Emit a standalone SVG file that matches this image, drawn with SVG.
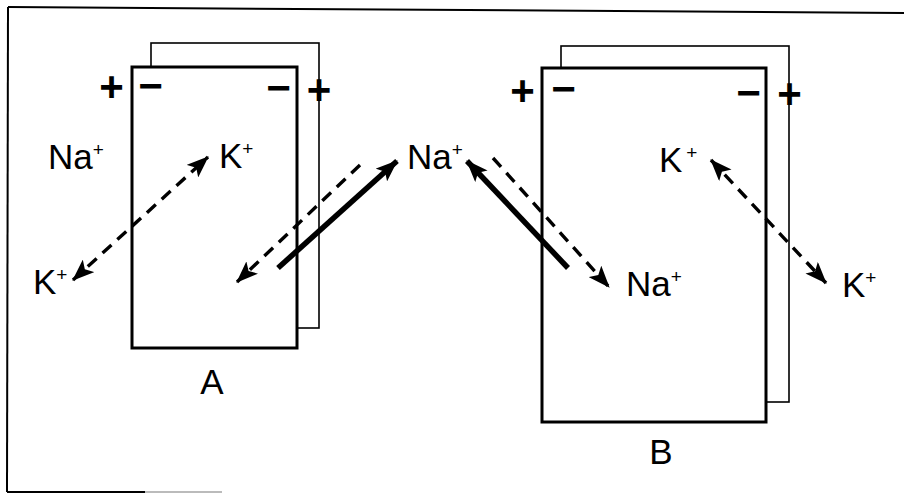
<svg xmlns="http://www.w3.org/2000/svg" width="904" height="493" viewBox="0 0 904 493">
  <defs>
    <marker id="head" viewBox="0 0 22 17" refX="21" refY="8.5" markerWidth="22" markerHeight="17" markerUnits="userSpaceOnUse" orient="auto-start-reverse">
      <path d="M0,0 L22,8.5 L0,17 L5,8.5 Z" fill="#000"/>
    </marker>
  </defs>
  <style>
    .frame { fill: none; stroke: #000; stroke-width: 2; }
    .back { fill: #fff; stroke: #000; stroke-width: 1.6; }
    .front { fill: #fff; stroke: #000; stroke-width: 3; }
    .lbl { font-family: "Liberation Sans", Arial, sans-serif; font-size: 35px; fill: #000; }
    .sup { font-size: 19px; }
    .sign { font-family: "Liberation Sans", Arial, sans-serif; font-size: 42px; font-weight: bold; fill: #000; text-anchor: middle; }
    .cap { font-family: "Liberation Sans", Arial, sans-serif; font-size: 35px; fill: #000; }
    .dash { fill: none; stroke: #000; stroke-width: 3.4; stroke-dasharray: 12 8; }
    .solid { fill: none; stroke: #000; stroke-width: 5.5; }
  </style>

  <!-- page frame (partial) -->
  <g id="frame">
    <line class="frame" x1="8" y1="7" x2="904" y2="13"/>
    <line class="frame" x1="8" y1="7" x2="7" y2="492"/>
    <line class="frame" x1="7" y1="492" x2="145" y2="492"/>
    <line x1="145" y1="492" x2="222" y2="492" stroke="#bbb" stroke-width="2"/>
  </g>

  <!-- cell A -->
  <g id="cellA">
    <rect class="back" x="151" y="43" width="168" height="285"/>
    <rect class="front" x="132" y="67" width="165" height="281"/>
    <text class="sign" x="111.5" y="101">+</text>
    <text class="sign" x="150.5" y="100">−</text>
    <text class="sign" x="278.5" y="102">−</text>
    <text class="sign" x="319" y="104">+</text>
    <text class="cap" x="212" y="394" text-anchor="middle">A</text>
  </g>

  <!-- cell B -->
  <g id="cellB">
    <rect class="back" x="561" y="46" width="228" height="356"/>
    <rect class="front" x="542" y="68" width="224" height="354"/>
    <text class="sign" x="522.5" y="105">+</text>
    <text class="sign" x="563.5" y="103">−</text>
    <text class="sign" x="748.5" y="107">−</text>
    <text class="sign" x="789.5" y="108">+</text>
    <text class="cap" x="661" y="464" text-anchor="middle">B</text>
  </g>

  <!-- ion labels -->
  <g id="ions">
    <text class="lbl" x="48" y="169">Na<tspan class="sup" dy="-13">+</tspan></text>
    <text class="lbl" x="219" y="168">K<tspan class="sup" dy="-13">+</tspan></text>
    <text class="lbl" x="33" y="294">K<tspan class="sup" dy="-13">+</tspan></text>
    <text class="lbl" x="407" y="169">Na<tspan class="sup" dy="-13">+</tspan></text>
    <text class="lbl" x="626" y="296">Na<tspan class="sup" dy="-13">+</tspan></text>
    <text class="lbl" x="659" y="172">K<tspan class="sup" dx="4" dy="-13">+</tspan></text>
    <text class="lbl" x="842" y="297">K<tspan class="sup" dy="-13">+</tspan></text>
  </g>

  <!-- fluxes -->
  <g id="connectors">
    <line class="dash" x1="73" y1="280" x2="208" y2="157" marker-start="url(#head)" marker-end="url(#head)"/>
    <line class="dash" x1="360" y1="165" x2="237" y2="282" marker-end="url(#head)"/>
    <line class="solid" x1="278" y1="268" x2="397" y2="161" marker-end="url(#head)"/>
    <line class="solid" x1="568" y1="268" x2="467" y2="161" marker-end="url(#head)"/>
    <line class="dash" x1="493" y1="158" x2="609" y2="287" marker-end="url(#head)"/>
    <line class="dash" x1="711" y1="160" x2="826" y2="283" marker-start="url(#head)" marker-end="url(#head)"/>
  </g>
</svg>
